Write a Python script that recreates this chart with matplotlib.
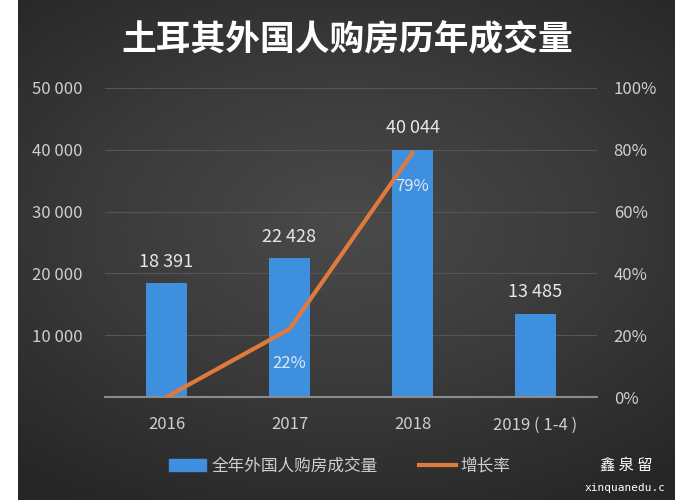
import numpy as np
import matplotlib
matplotlib.use("Agg")
import matplotlib.pyplot as plt
from matplotlib.colors import LinearSegmentedColormap
from matplotlib.lines import Line2D
from matplotlib.patches import Patch

plt.rcParams['font.family'] = ['Noto Sans CJK SC', 'DejaVu Sans']

# data
years = ['2016', '2017', '2018', '2019 ( 1-4 )']
volume = [18391, 22428, 40044, 13485]
growth = [0, 22, 79]          # %, no value for 2019
growth_labels = ['', '22%', '79%']
left_ticks = [0, 10000, 20000, 30000, 40000, 50000]
right_ticks = [0, 20, 40, 60, 80, 100]

bar_color = '#3f8fdf'
line_color = '#e07a3c'
text_color = '#cfcfcf'

fig = plt.figure(figsize=(6.94, 5), dpi=100, facecolor='white')

# dark background, a bit lighter in the middle
bg = fig.add_axes([18 / 694, 0, 657 / 694, 1])
yy, xx = np.mgrid[-1:1:300j, -1:1:300j]
r = np.clip(np.sqrt(xx ** 2 * 0.7 + (yy + 0.1) ** 2), 0, 1.3)
bg_cmap = LinearSegmentedColormap.from_list('bg', ['#4a4a4a', '#3a3a3a', '#262626'])
bg.imshow(r, cmap=bg_cmap, vmin=0, vmax=1.3, aspect='auto',
          extent=[0, 1, 0, 1], interpolation='bilinear')
bg.set_axis_off()

ax = fig.add_axes([105 / 694, 1 - 397 / 500, 492 / 694, 309 / 500])
ax.patch.set_alpha(0)
x = np.arange(len(years))
ax.bar(x, volume, width=0.33, color=bar_color, zorder=2)
ax.set_xlim(-0.5, len(years) - 0.5)
ax.set_ylim(0, 50000)
ax.set_yticks(left_ticks)
ax.set_yticklabels(['' if v == 0 else f'{v:,}'.replace(',', ' ') for v in left_ticks])
ax.set_xticks(x)
ax.set_xticklabels(years)
ax.tick_params(axis='both', length=0, colors=text_color, labelsize=12)
ax.tick_params(axis='y', pad=16)
ax.tick_params(axis='x', pad=14)
ax.grid(axis='y', color='#555555', linewidth=0.8, zorder=0)
for s in ['top', 'right', 'left']:
    ax.spines[s].set_visible(False)
ax.spines['bottom'].set_color('#8c8c8c')
ax.spines['bottom'].set_linewidth(1.5)

for xi, v in zip(x, volume):
    ax.text(xi, v + 2000, f'{v:,}'.replace(',', ' '), ha='center', va='bottom',
            color='#e8e8e8', fontsize=13)

ax2 = ax.twinx()
ax2.plot(x[:len(growth)], growth, color=line_color, linewidth=3, zorder=3)
ax2.set_ylim(0, 100)
ax2.set_yticks(right_ticks)
ax2.set_yticklabels([f'{v}%' for v in right_ticks])
ax2.tick_params(axis='y', length=0, colors=text_color, labelsize=12, pad=12)
for s in ax2.spines.values():
    s.set_visible(False)
for xi, g, lab in zip(x, growth, growth_labels):
    if lab:
        ax2.text(xi, g - 11, lab, ha='center', va='center', color='#dde8f5', fontsize=12)

fig.text(0.5, 0.92, '土耳其外国人购房历年成交量', ha='center', va='center',
         color='white', fontsize=25, fontweight='bold')

handles = [Patch(color=bar_color), Line2D([], [], color=line_color, linewidth=3)]
fig.legend(handles, ['全年外国人购房成交量', '增长率'], loc='center',
           bbox_to_anchor=(0.49, 0.068), ncol=2, frameon=False,
           labelcolor=text_color, fontsize=12, handlelength=2.2,
           handletextpad=0.3, columnspacing=2.5)

# watermark
fig.text(0.865, 0.06, '鑫 泉 留', color='white', fontsize=11)
fig.text(0.842, 0.018, 'xinquanedu.c', color='white', fontsize=8,
         family='DejaVu Sans Mono')

fig.savefig('out.png', dpi=100, facecolor=fig.get_facecolor())
